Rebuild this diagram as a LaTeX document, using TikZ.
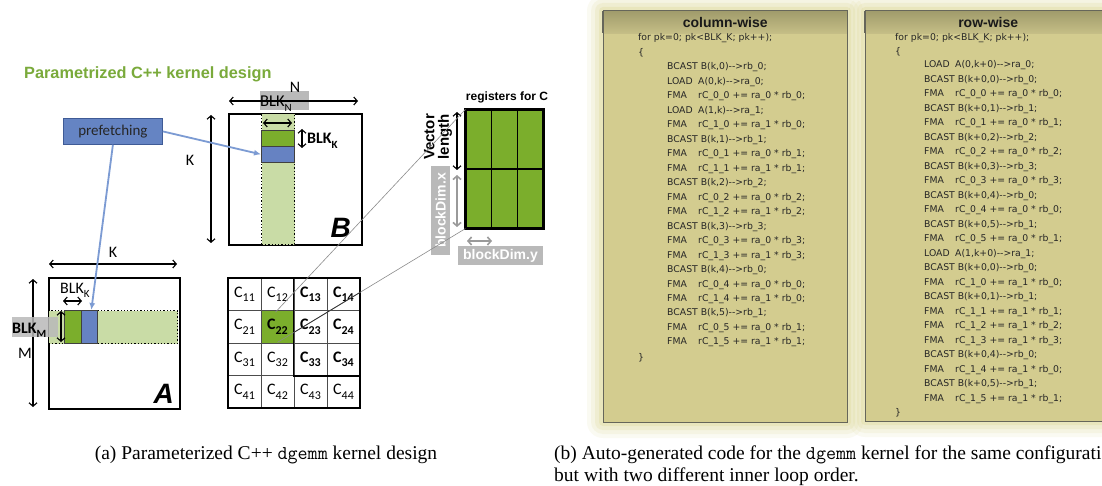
\documentclass[tikz,border=0pt]{standalone}
\usepackage{fontspec}
\usepackage{graphicx}
\setmainfont{Liberation Serif}
\newfontfamily\arialf{Liberation Sans}
\newfontfamily\calib{Carlito}
\newfontfamily\codef{DejaVu Sans}
\usetikzlibrary{arrows.meta,calc}

\definecolor{titlegreen}{HTML}{7AAA3B}
\definecolor{dkgreen}{HTML}{7BAE2C}
\definecolor{ltgreen}{HTML}{C9DCA6}
\definecolor{blkblue}{HTML}{6682C2}
\definecolor{prefblue}{HTML}{6584C3}
\definecolor{prefedge}{HTML}{3F5B96}
\definecolor{fetchblue}{HTML}{7C9BD3}
\definecolor{boxgray}{HTML}{B9B9B9}
\definecolor{dimgray}{HTML}{9A9A9A}
\definecolor{panelfill}{HTML}{D3CC8F}
\definecolor{headtop}{HTML}{A19C6C}
\definecolor{headbot}{HTML}{C5BE86}
\definecolor{paneledge}{HTML}{66665A}
\definecolor{glowc}{HTML}{DED895}
\definecolor{codetext}{HTML}{262626}

\newcommand\calsize[1]{\calib\fontsize{#1}{#1}\selectfont}
\newcommand\arsize[1]{\arialf\bfseries\fontsize{#1}{#1}\selectfont}
\newcommand\subs[1]{\raisebox{-0.3em}{\fontsize{11}{11}\selectfont #1}}
\newcommand\csub[1]{\raisebox{-0.28em}{\fontsize{12}{12}\selectfont #1}}
\newcommand\opc[1]{\makebox[31pt][l]{#1}}

\tikzset{
  matbox/.style={draw, line width=1.8pt, fill=white, inner sep=0pt, anchor=north west},
  bandbox/.style={draw, dotted, line width=1.3pt, fill=ltgreen, inner sep=0pt, anchor=north west},
  gblk/.style={draw=black!75, line width=0.7pt, fill=dkgreen, inner sep=0pt, anchor=north west},
  bblk/.style={draw=black!75, line width=0.7pt, fill=blkblue, inner sep=0pt, anchor=north west},
  dimarrow/.style={{Straight Barb[length=3.5pt,width=8pt]}-{Straight Barb[length=3.5pt,width=8pt]}, line width=1.1pt},
  graydim/.style={dimarrow, draw=dimgray, line width=1.6pt},
  fetcharrow/.style={-{Latex[length=7pt,width=6pt]}, draw=fetchblue, line width=1.8pt},
  zoomline/.style={draw=black!45, line width=0.6pt},
  ccell/.style={draw=black!70, line width=0.7pt, minimum width=33pt, minimum height=32.5pt, inner sep=0pt, font=\calsize{16}},
  regcell/.style={draw=black, line width=1.2pt, fill=dkgreen, minimum width=25.67pt, minimum height=59pt, inner sep=0pt},
  graybox/.style={fill=boxgray, inner sep=0pt, text=white, font=\arsize{14}},
  lbltext/.style={inner sep=0pt, font=\calsize{15}},
  panelbox/.style={fill=panelfill, inner sep=0pt, anchor=north west},
  headerbox/.style={top color=headtop, bottom color=headbot, inner sep=0pt, anchor=north west, font=\arsize{14}, text=black!90},
  codeline/.style={inner sep=0pt, anchor=base west, text=codetext, font=\codef\fontsize{9.3}{10}\selectfont},
  captext/.style={inner sep=0pt, font=\fontsize{19.5}{22}\selectfont}
}

\begin{document}
\begin{tikzpicture}[x=1pt,y=-1pt]
\useasboundingbox (0,0) rectangle (1102,486);
\fill[white] (0,0) rectangle (1102,486);

% ---------- title ----------
\node[inner sep=0pt, anchor=base west, font=\arsize{16.3}, text=titlegreen] (title) at (24,79) {Parametrized C++ kernel design};

% ---------- matrix B ----------
\node[matbox, minimum width=133pt, minimum height=131pt] (B) at (228,113) {};
\node[bandbox, minimum width=33pt, minimum height=131pt] (Bband) at (261,113) {};
\node[gblk, minimum width=33pt, minimum height=16pt] (Bg) at (261,130) {};
\node[bblk, minimum width=33pt, minimum height=16pt] (Bb) at (261,146) {};
\draw[dimarrow] (263,123) -- (292,123);
\draw[dimarrow] (302,129) -- (302,148);
\node[lbltext, anchor=base west, font=\calsize{16}\bfseries] (blkkB) at (307,144) {BLK\subs{K}};
\fill[boxgray] (260,91) rectangle (309,110);
\draw[dimarrow] (229,101) -- (358,101);
\node[lbltext, anchor=base west, font=\calsize{16.5}] (blkn) at (260,107) {BLK\subs{N}};
\node[lbltext, font=\calsize{16}] (nlab) at (295,87) {N};
\draw[dimarrow] (211,115) -- (211,243);
\node[lbltext, font=\calsize{16}] (kB) at (190,160) {K};
\node[inner sep=0pt, anchor=base east, font=\arialf\bfseries\itshape\fontsize{28}{28}\selectfont] (Blab) at (351,238) {B};

% ---------- matrix A ----------
\node[matbox, minimum width=131pt, minimum height=131pt] (A) at (48,277) {};
\node[bandbox, minimum width=129pt, minimum height=33pt] (Aband) at (48,310) {};
\node[gblk, minimum width=17pt, minimum height=33pt] (Ag) at (64,310) {};
\node[bblk, minimum width=16pt, minimum height=33pt] (Ab) at (81,310) {};
\draw[dimarrow] (49,264) -- (177,264);
\node[lbltext, font=\calsize{16}] (kA) at (113,252) {K};
\draw[dimarrow] (33,279) -- (33,407);
\node[lbltext, fill=white, inner sep=0.5pt, font=\calsize{16}] (mA) at (25,353) {M};
\node[lbltext, anchor=base west, font=\calsize{16}] (blkkA) at (60,293) {BLK\subs{K}};
\draw[dimarrow] (63,301) -- (82,301);
\fill[boxgray, opacity=0.85] (12,317) rectangle (58,337);
\node[lbltext, anchor=base west, font=\calsize{16}\bfseries] (blkm) at (12,333) {BLK\subs{M}};
\draw[dimarrow] (61,311) -- (61,342);
\node[inner sep=0pt, anchor=base east, font=\arialf\bfseries\itshape\fontsize{28}{28}\selectfont] (Alab) at (174,403) {A};

% ---------- prefetching ----------
\node[draw=prefedge, line width=0.8pt, fill=prefblue, minimum width=99pt, minimum height=26pt, inner sep=0pt, anchor=north west, font=\calsize{15}, text=black!85] (pref) at (63,118) {prefetching};
\draw[fetcharrow] (pref.east) -- (Bb.west);
\draw[fetcharrow] (pref.south) -- ($(Ab.north)+(2,0)$);

% ---------- C tiles ----------
\fill[dkgreen] (261,310.5) rectangle (294,343);
\foreach \r in {1,...,4}{
  \foreach \c in {1,...,4}{
    \pgfmathtruncatemacro\isb{(\c>2)*(\r<4)+(\r==2)*(\c==2)}
    \node[ccell] (c\r\c) at ({244.5+33*(\c-1)},{294.25+32.5*(\r-1)})
      {\ifnum\isb>0\bfseries\fi C\csub{\r\c}};
  }
}
\draw[line width=2pt] (c11.north west) rectangle (c44.south east);
\draw[line width=1.6pt] (c13.north west) -- (c33.south west) -- (c34.south east);

% ---------- registers ----------
\foreach \r in {1,2}{
  \foreach \c in {1,2,3}{
    \node[regcell] (r\r\c) at ({466+25.67*(\c-0.5)},{110+59*(\r-0.5)}) {};
  }
}
\draw[line width=2.6pt] (r11.north west) rectangle (r23.south east);
\node[inner sep=0pt, font=\arsize{12}] (regcap) at (507,97) {registers for C};
\node[inner sep=0pt, rotate=90, align=center, font=\arialf\bfseries\fontsize{15}{14.5}\selectfont] (vlen) at (438,137) {Vector\\length};
\draw[dimarrow] (457,112) -- (457,170);
\node[graybox, rotate=90, minimum width=89pt, minimum height=19pt] (bdx) at (440.5,210.5) {blockDim.x};
\draw[graydim] (457,175) -- (457,227);
\node[graybox, minimum width=85pt, minimum height=19pt] (bdy) at (500.5,255.5) {blockDim.y};
\draw[graydim] (467,241) -- (492,241);

% zoom lines from the C tile to its registers
\draw[zoomline] ($(c22.north)+(-2,2)$) -- (r11.north west);
\draw[zoomline] ($(c22.south)+(0,-1)$) -- (r21.south west);
\begin{scope}
  \clip (c13.north west) rectangle (c34.south east);
  \draw[draw=black!80, line width=0.8pt] ($(c22.south)+(0,-1)$) -- (r21.south west);
\end{scope}

% ---------- code panels ----------
\foreach \px/\pw/\ph in {603/244/411, 865/246/410}{
  \foreach \d/\o in {16/0.12, 12/0.16, 8/0.22, 4/0.32}{
    \fill[glowc, opacity=\o, rounded corners=\d pt] ({\px-\d},{11-\d}) rectangle ({\px+\pw+\d},{11+\ph+\d});
  }
}
\node[panelbox, minimum width=244pt, minimum height=411pt] (P1) at (603,11) {};
\node[headerbox, minimum width=244pt, minimum height=22pt] (H1) at (603,11) {column-wise};
\draw[paneledge, line width=1pt] (P1.north west) rectangle (P1.south east);
\draw[paneledge, line width=1.8pt] (P1.north west) -- ($(P1.north west)+(0,22)$);

\node[panelbox, minimum width=246pt, minimum height=410pt] (P2) at (865,11) {};
\node[headerbox, minimum width=246pt, minimum height=22pt] (H2) at (865,11) {row-wise};
\draw[paneledge, line width=1pt] (P2.north west) rectangle (P2.south east);
\draw[paneledge, line width=1.8pt] (P2.north west) -- ($(P2.north west)+(0,22)$);

% column-wise kernel body
\node[codeline] at (638,41) {for pk=0; pk<BLK\_K; pk++);};
\node[codeline] at (638,56) {\{};
\foreach \t [count=\i] in {
  {BCAST B(k,0)-{}->rb\_0;},
  {\opc{LOAD}A(0,k)-{}->ra\_0;},
  {\opc{FMA}rC\_0\_0 += ra\_0 * rb\_0;},
  {\opc{LOAD}A(1,k)-{}->ra\_1;},
  {\opc{FMA}rC\_1\_0 += ra\_1 * rb\_0;},
  {BCAST B(k,1)-{}->rb\_1;},
  {\opc{FMA}rC\_0\_1 += ra\_0 * rb\_1;},
  {\opc{FMA}rC\_1\_1 += ra\_1 * rb\_1;},
  {BCAST B(k,2)-{}->rb\_2;},
  {\opc{FMA}rC\_0\_2 += ra\_0 * rb\_2;},
  {\opc{FMA}rC\_1\_2 += ra\_1 * rb\_2;},
  {BCAST B(k,3)-{}->rb\_3;},
  {\opc{FMA}rC\_0\_3 += ra\_0 * rb\_3;},
  {\opc{FMA}rC\_1\_3 += ra\_1 * rb\_3;},
  {BCAST B(k,4)-{}->rb\_0;},
  {\opc{FMA}rC\_0\_4 += ra\_0 * rb\_0;},
  {\opc{FMA}rC\_1\_4 += ra\_1 * rb\_0;},
  {BCAST B(k,5)-{}->rb\_1;},
  {\opc{FMA}rC\_0\_5 += ra\_0 * rb\_1;},
  {\opc{FMA}rC\_1\_5 += ra\_1 * rb\_1;}
}{
  \node[codeline] at (667,{70+14.47*(\i-1)}) {\t};
}
\node[codeline] at (638,360) {\}};

% row-wise kernel body
\node[codeline] at (895,41) {for pk=0; pk<BLK\_K; pk++);};
\node[codeline] at (895,55) {\{};
\foreach \t [count=\i] in {
  {\opc{LOAD}A(0,k+0)-{}->ra\_0;},
  {BCAST B(k+0,0)-{}->rb\_0;},
  {\opc{FMA}rC\_0\_0 += ra\_0 * rb\_0;},
  {BCAST B(k+0,1)-{}->rb\_1;},
  {\opc{FMA}rC\_0\_1 += ra\_0 * rb\_1;},
  {BCAST B(k+0,2)-{}->rb\_2;},
  {\opc{FMA}rC\_0\_2 += ra\_0 * rb\_2;},
  {BCAST B(k+0,3)-{}->rb\_3;},
  {\opc{FMA}rC\_0\_3 += ra\_0 * rb\_3;},
  {BCAST B(k+0,4)-{}->rb\_0;},
  {\opc{FMA}rC\_0\_4 += ra\_0 * rb\_0;},
  {BCAST B(k+0,5)-{}->rb\_1;},
  {\opc{FMA}rC\_0\_5 += ra\_0 * rb\_1;},
  {\opc{LOAD}A(1,k+0)-{}->ra\_1;},
  {BCAST B(k+0,0)-{}->rb\_0;},
  {\opc{FMA}rC\_1\_0 += ra\_1 * rb\_0;},
  {BCAST B(k+0,1)-{}->rb\_1;},
  {\opc{FMA}rC\_1\_1 += ra\_1 * rb\_1;},
  {\opc{FMA}rC\_1\_2 += ra\_1 * rb\_2;},
  {\opc{FMA}rC\_1\_3 += ra\_1 * rb\_3;},
  {BCAST B(k+0,4)-{}->rb\_0;},
  {\opc{FMA}rC\_1\_4 += ra\_1 * rb\_0;},
  {BCAST B(k+0,5)-{}->rb\_1;},
  {\opc{FMA}rC\_1\_5 += ra\_1 * rb\_1;}
}{
  \node[codeline] at (924,{68+14.48*(\i-1)}) {\t};
}
\node[codeline] at (895,415) {\}};

% ---------- captions ----------
\node[captext, anchor=base] (capa) at (266,459) {(a) Parameterized C++ \texttt{dgemm} kernel design};
\node[captext, anchor=base west] (capb1) at (554,459) {(b) Auto-generated code for the \texttt{dgemm} kernel for the same configuration};
\node[captext, anchor=base west] (capb2) at (554,481) {but with two different inner loop order.};
\end{tikzpicture}
\end{document}
